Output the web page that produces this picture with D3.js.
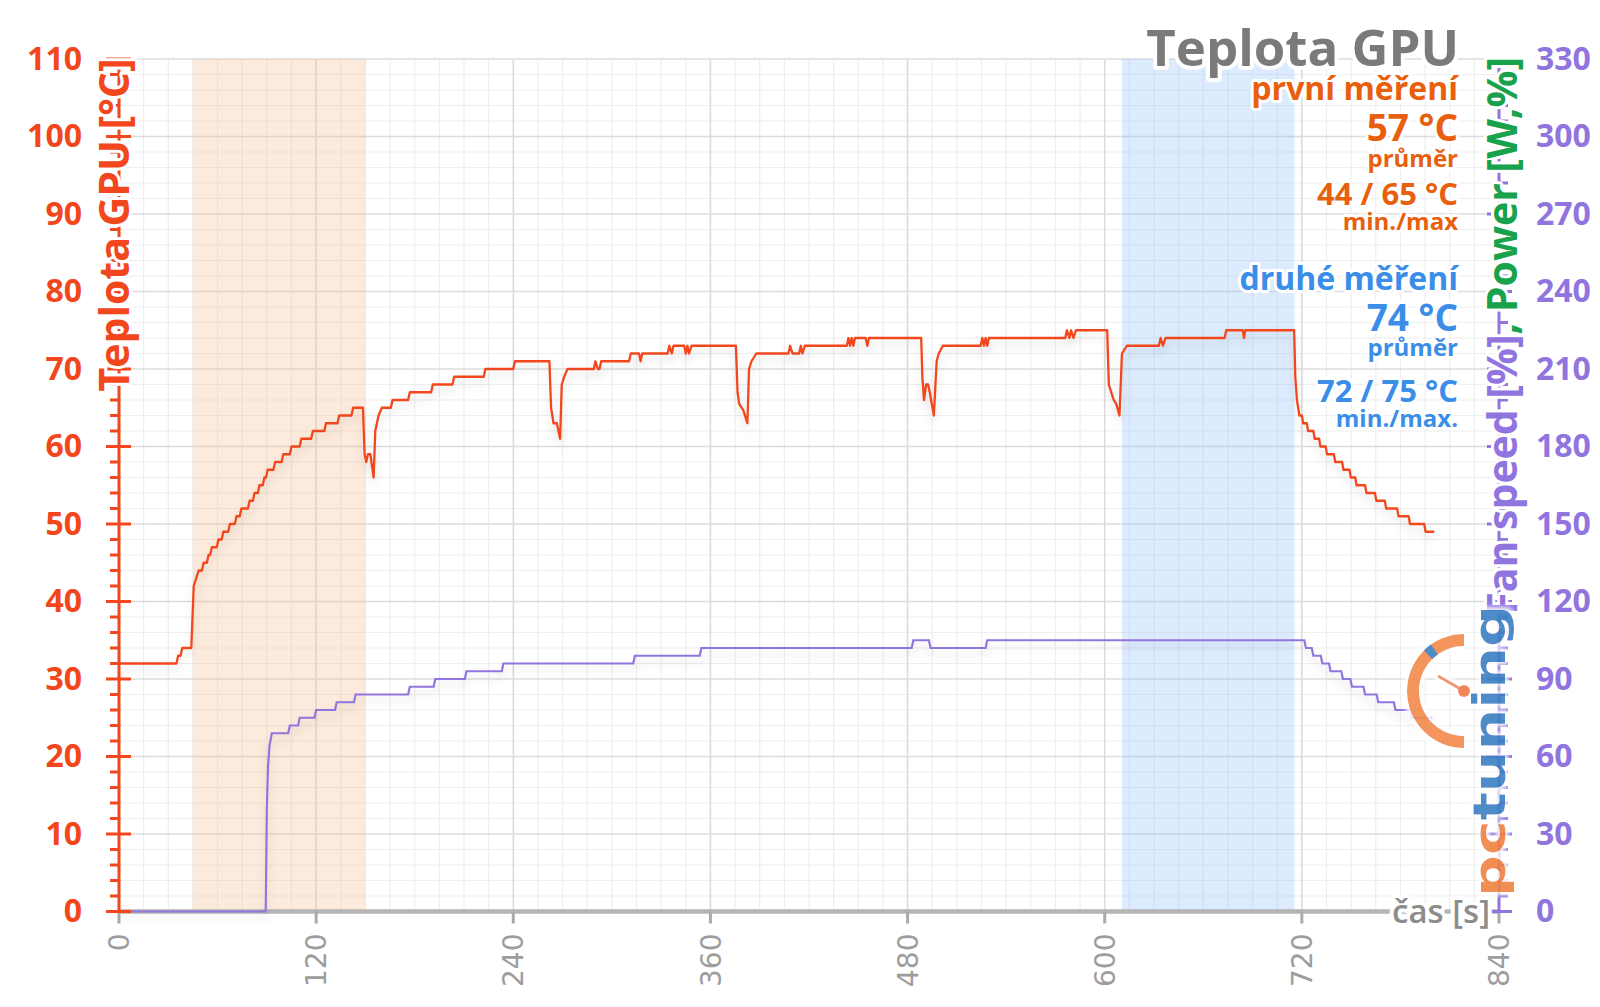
<!DOCTYPE html>
<html><head><meta charset="utf-8">
<script src="https://cdn.jsdelivr.net/npm/d3@7"></script>
<style>
html,body{margin:0;padding:0;background:#fff;}
svg{display:block;}
.halo{paint-order:stroke;stroke:#fff;stroke-linejoin:round;}
</style></head><body>
<svg id="chart" width="1600" height="1007"></svg>
<script>
// ---------- DATA ----------
const tempTime = [0,35,36,37.5,38.5,44,45.5,47,48.5,50.5,51.5,53.5,54.5,55.5,56.5,59.5,60.5,62.5,63.5,66.5,67.5,70.5,71.5,73.5,74.5,78.5,79.5,81.5,82.5,84.5,85.5,87.5,88.5,89.5,90.5,94,95,99,100,104,105,110,111,117,118,125,126,133,134,141.5,142.5,148.5,149.5,150.5,151.5,153,155,156,158,160,165.5,166.5,176,177,190,191,203,204,222,223,240,241,262,263,264.5,266.5,268.5,269.5,271,273,289,290,291.5,292.5,293.5,310.5,311.5,316.5,317.5,318.5,334,335,336.5,337.5,344,345,346,347,348.5,375.5,376.5,377.5,380,382.5,383.5,385,388,407.5,408.5,410,414,415,416,417.5,443,444,445,446,447,448,454.5,455.5,456.5,488.3,489,490,491.3,492.5,493.5,496,497.7,499,501.5,524.5,525.5,526.5,527.5,528.5,529.5,576,577,578.5,579.5,581,582.5,601.5,602.5,603.5,605.5,607,609,610.5,613.5,633,634,635.5,637,673,674,684,684.8,685.6,715.3,716,717,718.5,720,720.8,723,723.8,727,727.8,730.5,731.3,734.5,735.3,739.5,740.3,744.5,745.3,749,749.8,752.5,753.3,758.5,759.3,764.5,765.3,770.5,771.3,778,778.8,785,785.8,794.5,795.3,800.6];
const tempValue = [32,32,33,33,34,34,42,43,44,44,45,45,46,46,47,47,48,48,49,49,50,50,51,51,52,52,53,53,54,54,55,55,56,56,57,57,58,58,59,59,60,60,61,61,62,62,63,63,64,64,65,65,59,58,59,59,56,62,64,65,65,66,66,67,67,68,68,69,69,70,70,71,71,65,63,63,61,68,69,70,70,71,70,70,71,71,72,72,71,72,72,73,72,73,73,72,73,72,73,73,67,65.5,64.7,63,70,71,72,72,73,72,72,73,72,73,73,74,73,74,73,74,74,73,74,74,69,66,68,68,67,64,71,72,73,73,74,73,74,73,74,74,75,74,75,74,75,75,68,67.3,66,65.5,64,72,73,73,74,73,74,74,75,75,74,75,75,69,66,64,64,63,63,62,62,61,61,60,60,59,59,58,58,57,57,56,56,55,55,54,54,53,53,52,52,51,51,50,50,49,49];

const fanTime = [0,89.3,90,90.7,91.6,93,103,104,109,110,119,120,131.5,132.5,143,144,176,177,191.5,192.5,210.5,211.5,233,234,313,314,353.5,354.5,482.5,483.5,493,494,527.5,528.5,721.5,722.5,726,727,731.5,732.5,736.5,737.5,744,745,749.5,750.5,757.5,758.5,765.5,766.5,776,777,786,787,799.5];
const fanValue = [0,0,40,56,64,69,69,72,72,75,75,78,78,81,81,84,84,87,87,90,90,93,93,96,96,99,99,102,102,105,105,102,102,105,105,102,102,99,99,96,96,93,93,90,90,87,87,84,84,81,81,78,78,75,75];

const xTickValues = [0,120,240,360,480,600,720,840];
const leftTickValues = [0,10,20,30,40,50,60,70,80,90,100,110];
const rightTickValues = [0,30,60,90,120,150,180,210,240,270,300,330];
const firstRunSpan = [45,150];
const secondRunSpan = [610.5,715.5];

const chartTitle = "Teplota GPU";
const leftAxisTitle = "Teplota GPU [°C]";
const rightAxisTitleA = "Fan speed [%]";
const rightAxisTitleB = ", Power [W,%]";
const xAxisTitle = "čas [s]";
const firstRunLabels = ["první měření","57 °C","průměr","44 / 65 °C","min./max"];
const secondRunLabels = ["druhé měření","74 °C","průměr","72 / 75 °C","min./max."];

// ---------- STYLE ----------
const RED = "#f2471d", PURPLE = "#9175df", GREEN = "#18a24c";
const ORANGE_T = "#e8600e", BLUE_T = "#3a8ee8", GREY_T = "#7a7a7a";
const FONT = "'Open Sans', 'Noto Sans', sans-serif";

const svg = d3.select("#chart");
svg.append("rect").attr("width",1600).attr("height",1007).attr("fill","#fff");

const defs = svg.append("defs");
const f = defs.append("filter").attr("id","shadow").attr("x","-5%").attr("y","-20%").attr("width","110%").attr("height","150%");
f.append("feDropShadow").attr("dx",0).attr("dy",6).attr("stdDeviation",4).attr("flood-color","#000").attr("flood-opacity",0.13);
const g2 = defs.append("filter").attr("id","glow").attr("x","-20%").attr("y","-20%").attr("width","140%").attr("height","140%");
g2.append("feMorphology").attr("in","SourceAlpha").attr("operator","dilate").attr("radius",3).attr("result","d");
g2.append("feGaussianBlur").attr("in","d").attr("stdDeviation",2).attr("result","b");
g2.append("feFlood").attr("flood-color","#fff");
g2.append("feComposite").attr("in2","b").attr("operator","in").attr("result","w");
const gm = g2.append("feMerge"); gm.append("feMergeNode").attr("in","w"); gm.append("feMergeNode").attr("in","SourceGraphic");

// ---------- SCALES ----------
const x = d3.scaleLinear().domain([0,840]).range([119,1499]);
const yL = d3.scaleLinear().domain([0,110]).range([911.5,59]);
const yR = d3.scaleLinear().domain([0,330]).range([911.5,59]);
const [X0,X1] = x.range(), [Y0,Y1] = yL.range();

// ---------- GRID ----------
const grid = svg.append("g");
grid.selectAll("line.vmin").data(d3.range(0,841,15).filter(v=>v%120)).join("line")
  .attr("x1",d=>x(d)).attr("x2",d=>x(d)).attr("y1",Y1).attr("y2",Y0).attr("stroke","#eeeeee").attr("stroke-width",1.2);
grid.selectAll("line.hmin").data(d3.range(0,111,2).filter(v=>v%10)).join("line")
  .attr("y1",d=>yL(d)).attr("y2",d=>yL(d)).attr("x1",X0).attr("x2",X1).attr("stroke","#eeeeee").attr("stroke-width",1.2);
grid.selectAll("line.vmaj").data(xTickValues.slice(1)).join("line")
  .attr("x1",d=>x(d)).attr("x2",d=>x(d)).attr("y1",Y1).attr("y2",Y0).attr("stroke","#dcdcdc").attr("stroke-width",1.6);
grid.selectAll("line.hmaj").data(leftTickValues.slice(1)).join("line")
  .attr("y1",d=>yL(d)).attr("y2",d=>yL(d)).attr("x1",X0).attr("x2",X1).attr("stroke","#dcdcdc").attr("stroke-width",1.6);

// ---------- BANDS ----------
svg.append("rect").attr("x",x(firstRunSpan[0])).attr("width",x(firstRunSpan[1])-x(firstRunSpan[0]))
  .attr("y",Y1).attr("height",Y0-Y1).attr("fill","rgb(246,190,140)").attr("opacity",0.3);
svg.append("rect").attr("x",x(secondRunSpan[0])).attr("width",x(secondRunSpan[1])-x(secondRunSpan[0]))
  .attr("y",Y1).attr("height",Y0-Y1).attr("fill","rgb(140,190,250)").attr("opacity",0.3);

// ---------- X AXIS ----------
svg.append("line").attr("x1",X0).attr("x2",X1).attr("y1",Y0).attr("y2",Y0).attr("stroke","#b5b5b5").attr("stroke-width",4.5);
svg.selectAll("line.xt").data(xTickValues).join("line")
  .attr("x1",d=>x(d)).attr("x2",d=>x(d)).attr("y1",Y0).attr("y2",Y0+12).attr("stroke","#aaaaaa").attr("stroke-width",3);
svg.selectAll("text.xl").data(xTickValues).join("text")
  .attr("transform",d=>`translate(${x(d)},${Y0+22}) rotate(-90)`)
  .attr("text-anchor","end").attr("dy","0.36em")
  .attr("font-family","'DejaVu Sans', sans-serif").attr("font-size",28).attr("fill","#9d9d9d").text(d=>d);

// ---------- LINES ----------
const line = (ys) => d3.line().x(d=>x(d[0])).y(d=>ys(d[1]));
svg.append("path").datum(d3.zip(fanTime,fanValue)).attr("d",line(yR))
  .attr("fill","none").attr("stroke",PURPLE).attr("stroke-width",2.2).attr("filter","url(#shadow)");
svg.append("path").datum(d3.zip(tempTime,tempValue)).attr("d",line(yL))
  .attr("fill","none").attr("stroke",RED).attr("stroke-width",2.3).attr("stroke-linejoin","round").attr("filter","url(#shadow)");

// ---------- LEFT AXIS ----------
const la = svg.append("g");
la.append("line").attr("x1",X0).attr("x2",X0).attr("y1",Y1).attr("y2",Y0).attr("stroke",RED).attr("stroke-width",3);
la.selectAll("line.mn").data(d3.range(0,111,2).filter(v=>v%10)).join("line")
  .attr("x1",X0-9).attr("x2",X0).attr("y1",d=>yL(d)).attr("y2",d=>yL(d)).attr("stroke",RED).attr("stroke-width",3);
la.selectAll("line.mj").data(leftTickValues).join("line")
  .attr("x1",X0-13).attr("x2",X0+12).attr("y1",d=>yL(d)).attr("y2",d=>yL(d)).attr("stroke",RED).attr("stroke-width",3);
const axL = svg.append("g").attr("transform",`translate(${X0},0)`)
  .call(d3.axisLeft(yL).tickValues(leftTickValues).tickSize(0).tickPadding(37));
axL.select(".domain").remove();
axL.selectAll("text").attr("font-family",FONT).attr("font-weight",700).attr("font-size",32).attr("fill",RED);

// ---------- RIGHT AXIS ----------
const ra = svg.append("g");
ra.append("line").attr("x1",X1).attr("x2",X1).attr("y1",Y1).attr("y2",Y0).attr("stroke",PURPLE).attr("stroke-width",3);
ra.selectAll("line.mn").data(d3.range(0,331,6).filter(v=>v%30)).join("line")
  .attr("x1",X1).attr("x2",X1+9).attr("y1",d=>yR(d)).attr("y2",d=>yR(d)).attr("stroke",PURPLE).attr("stroke-width",3);
ra.selectAll("line.mj").data(rightTickValues).join("line")
  .attr("x1",X1-12).attr("x2",X1+13).attr("y1",d=>yR(d)).attr("y2",d=>yR(d)).attr("stroke",PURPLE).attr("stroke-width",3);
const axR = svg.append("g").attr("transform",`translate(${X1},0)`)
  .call(d3.axisRight(yR).tickValues(rightTickValues).tickSize(0).tickPadding(37));
axR.select(".domain").remove();
axR.selectAll("text").attr("font-family",FONT).attr("font-weight",700).attr("font-size",32).attr("fill",PURPLE);

// ---------- AXIS TITLES ----------
svg.append("text").attr("class","halo").attr("stroke-width",6)
  .attr("transform","translate(129,225) rotate(-90)").attr("text-anchor","middle")
  .attr("font-family",FONT).attr("font-weight",700).attr("font-size",41).attr("fill",RED).text(leftAxisTitle);
const rt = svg.append("text").attr("class","halo").attr("stroke-width",6)
  .attr("transform","translate(1517,57) rotate(-90)").attr("text-anchor","end")
  .attr("font-family",FONT).attr("font-weight",700).attr("font-size",41);
rt.append("tspan").attr("fill",PURPLE).text(rightAxisTitleA);
rt.append("tspan").attr("fill",GREEN).text(rightAxisTitleB);

svg.append("text").attr("class","halo").attr("stroke-width",8)
  .attr("x",1490).attr("y",923).attr("text-anchor","end")
  .attr("font-family",FONT).attr("font-weight",600).attr("font-size",33).attr("fill","#8c8c8c").text(xAxisTitle);

// ---------- TITLE & STATS ----------
const TX = 1458;
svg.append("text").attr("class","halo").attr("stroke-width",8).attr("x",TX+1).attr("y",66).attr("text-anchor","end")
  .attr("font-family",FONT).attr("font-weight",700).attr("font-size",51).attr("fill",GREY_T).text(chartTitle);
const statStyle = [
  {size:32, y:100}, {size:37, y:141}, {size:24, y:167}, {size:31, y:205}, {size:24, y:230}
];
const statStyle2 = [
  {size:32, y:290}, {size:37, y:331}, {size:24, y:356}, {size:31, y:402}, {size:24, y:427}
];
svg.selectAll("text.s1").data(firstRunLabels).join("text").attr("class","halo").attr("stroke-width",6)
  .attr("x",TX).attr("y",(d,i)=>statStyle[i].y).attr("text-anchor","end")
  .attr("font-family",FONT).attr("font-weight",700).attr("font-size",(d,i)=>statStyle[i].size).attr("fill",ORANGE_T).text(d=>d);
svg.selectAll("text.s2").data(secondRunLabels).join("text").attr("class","halo").attr("stroke-width",6)
  .attr("x",TX).attr("y",(d,i)=>statStyle2[i].y).attr("text-anchor","end")
  .attr("font-family",FONT).attr("font-weight",700).attr("font-size",(d,i)=>statStyle2[i].size).attr("fill",BLUE_T).text(d=>d);

// ---------- LOGO ----------
const logo = svg.append("g").attr("opacity",0.9).attr("filter","url(#glow)");
const cx = 1464, cy = 691;
logo.append("path").attr("transform",`translate(${cx},${cy})`)
  .attr("d",d3.arc().innerRadius(45).outerRadius(57).startAngle(Math.PI).endAngle(2*Math.PI)())
  .attr("fill","#f28a4c");
logo.append("path").attr("transform",`translate(${cx},${cy})`)
  .attr("d",d3.arc().innerRadius(45).outerRadius(57).startAngle(2*Math.PI-0.78).endAngle(2*Math.PI-0.62)())
  .attr("fill","#3b7fc4");
logo.append("line").attr("x1",cx).attr("y1",cy).attr("x2",cx-26).attr("y2",cy-15).attr("stroke","#f08a60").attr("stroke-width",3);
logo.append("circle").attr("cx",cx).attr("cy",cy).attr("r",6).attr("fill","#f07a4a");
const lt = logo.append("text").attr("transform","translate(1505,897) rotate(-90)")
  .attr("font-family","'DejaVu Sans', sans-serif").attr("font-weight",700).attr("font-size",44)
  .attr("textLength",292).attr("lengthAdjust","spacingAndGlyphs");
lt.append("tspan").attr("fill","#f08240").text("pc");
lt.append("tspan").attr("fill","#3b7fc4").text("tuning");
</script>
</body></html>
